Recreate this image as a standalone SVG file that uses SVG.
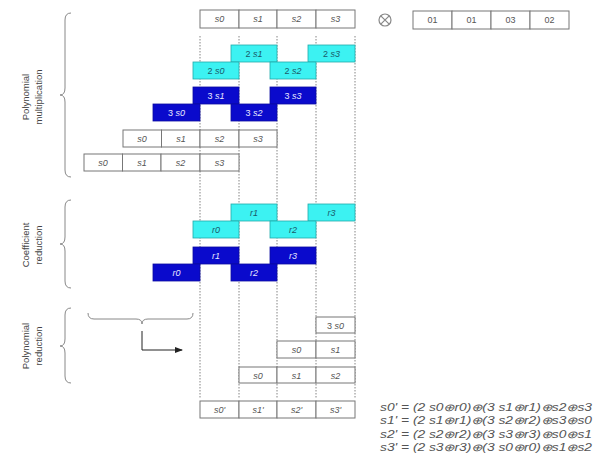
<svg xmlns="http://www.w3.org/2000/svg" width="603" height="475" viewBox="0 0 603 475">
<defs>
<style>
.g rect{fill:#fff;stroke:#777;stroke-width:1}
.c rect{fill:#3cf2f2;stroke:#22aaaa;stroke-width:0.8}
.b rect{fill:#0a0acc;stroke:#0a0aa0;stroke-width:0.8}
text{font-family:"Liberation Sans",Arial,sans-serif;font-size:9px;text-anchor:middle}
.g text{fill:#555;font-style:italic}
.c text{fill:#1a5a6a}
.b text{fill:#e8e8ff}
.it{font-style:italic}
.lbl{fill:#444;font-size:9.5px}
.eq{fill:#555;font-style:italic;text-anchor:start;font-size:10px}
.dash{stroke:#666;stroke-width:0.8;stroke-dasharray:1.5,1.5;fill:none}
.brace{fill:none;stroke:#888;stroke-width:1}
</style>
<marker id="arr" markerWidth="8" markerHeight="8" refX="7" refY="4" orient="auto" markerUnits="userSpaceOnUse">
<path d="M0,1 L8,4 L0,7 Z" fill="#222"/>
</marker>
</defs>

<g id="gridlines">
<line class="dash" x1="200" y1="36" x2="200" y2="398"/>
<line class="dash" x1="239" y1="36" x2="239" y2="398"/>
<line class="dash" x1="277" y1="36" x2="277" y2="398"/>
<line class="dash" x1="316" y1="36" x2="316" y2="398"/>
<line class="dash" x1="355" y1="36" x2="355" y2="398"/>
</g>

<g id="state-row" class="g">
<rect x="200" y="10" width="39" height="18"/><text x="219.5" y="22">s0</text>
<rect x="239" y="10" width="38" height="18"/><text x="258" y="22">s1</text>
<rect x="277" y="10" width="39" height="18"/><text x="296.5" y="22">s2</text>
<rect x="316" y="10" width="39" height="18"/><text x="335.5" y="22">s3</text>
</g>
<g id="otimes">
<circle cx="385" cy="20" r="6" fill="none" stroke="#888" stroke-width="1.2"/>
<path d="M380.8,15.8 L389.2,24.2 M389.2,15.8 L380.8,24.2" stroke="#888" stroke-width="1.2"/>
</g>
<g id="poly-row" class="g">
<rect x="413" y="11" width="39" height="18"/><text x="432.5" y="23" style="font-style:normal">01</text>
<rect x="452" y="11" width="39" height="18"/><text x="471.5" y="23" style="font-style:normal">01</text>
<rect x="491" y="11" width="39" height="18"/><text x="510.5" y="23" style="font-style:normal">03</text>
<rect x="530" y="11" width="39" height="18"/><text x="549.5" y="23" style="font-style:normal">02</text>
</g>

<g id="mul2" class="c">
<rect x="231" y="45" width="46" height="17"/><text x="254" y="57">2 <tspan class="it">s1</tspan></text>
<rect x="308" y="45" width="47" height="17"/><text x="331.5" y="57">2 <tspan class="it">s3</tspan></text>
<rect x="193" y="62" width="46" height="17"/><text x="216" y="74">2 <tspan class="it">s0</tspan></text>
<rect x="270" y="62" width="46" height="17"/><text x="293" y="74">2 <tspan class="it">s2</tspan></text>
</g>
<g id="mul3" class="b">
<rect x="193" y="87" width="46" height="17"/><text x="216" y="99">3 <tspan class="it">s1</tspan></text>
<rect x="270" y="87" width="46" height="17"/><text x="293" y="99">3 <tspan class="it">s3</tspan></text>
<rect x="153" y="104" width="47" height="17"/><text x="176.5" y="116">3 <tspan class="it">s0</tspan></text>
<rect x="231" y="104" width="46" height="17"/><text x="254" y="116">3 <tspan class="it">s2</tspan></text>
</g>
<g id="shift1" class="g">
<rect x="123" y="130" width="38.5" height="17"/><text x="142" y="142">s0</text>
<rect x="161.5" y="130" width="38.5" height="17"/><text x="181" y="142">s1</text>
<rect x="200" y="130" width="39" height="17"/><text x="219.5" y="142">s2</text>
<rect x="239" y="130" width="38" height="17"/><text x="258" y="142">s3</text>
</g>
<g id="shift2" class="g">
<rect x="84" y="154" width="38.5" height="17"/><text x="103" y="166">s0</text>
<rect x="122.5" y="154" width="38.5" height="17"/><text x="142" y="166">s1</text>
<rect x="161" y="154" width="39" height="17"/><text x="180.5" y="166">s2</text>
<rect x="200" y="154" width="39" height="17"/><text x="219.5" y="166">s3</text>
</g>

<g id="red2" class="c">
<rect x="231" y="204" width="46" height="17"/><text x="254" y="216" class="it">r1</text>
<rect x="308" y="204" width="47" height="17"/><text x="331.5" y="216" class="it">r3</text>
<rect x="193" y="221" width="46" height="17"/><text x="216" y="233" class="it">r0</text>
<rect x="270" y="221" width="46" height="17"/><text x="293" y="233" class="it">r2</text>
</g>
<g id="red3" class="b">
<rect x="193" y="247" width="46" height="17"/><text x="216" y="259" class="it">r1</text>
<rect x="270" y="247" width="46" height="17"/><text x="293" y="259" class="it">r3</text>
<rect x="153" y="264" width="47" height="17"/><text x="176.5" y="276" class="it">r0</text>
<rect x="231" y="264" width="46" height="17"/><text x="254" y="276" class="it">r2</text>
</g>

<g id="polyred" class="g">
<rect x="316" y="317" width="39" height="16"/><text x="335.5" y="328.5"><tspan style="font-style:normal">3 </tspan>s0</text>
<rect x="277" y="341" width="39" height="17"/><text x="296.5" y="353">s0</text>
<rect x="316" y="341" width="39" height="17"/><text x="335.5" y="353">s1</text>
<rect x="239" y="367" width="38" height="16"/><text x="258" y="378.5">s0</text>
<rect x="277" y="367" width="39" height="16"/><text x="296.5" y="378.5">s1</text>
<rect x="316" y="367" width="39" height="16"/><text x="335.5" y="378.5">s2</text>
</g>

<g id="result" class="g">
<rect x="200" y="401" width="39" height="17"/><text x="219.5" y="413">s0'</text>
<rect x="239" y="401" width="38" height="17"/><text x="258" y="413">s1'</text>
<rect x="277" y="401" width="39" height="17"/><text x="296.5" y="413">s2'</text>
<rect x="316" y="401" width="39" height="17"/><text x="335.5" y="413">s3'</text>
</g>

<g id="labels">
<g id="lbl-mul">
<path class="brace" d="M71,13 Q65,13 65,20 L65,88 Q65,95 60,95 Q65,95 65,102 L65,170 Q65,177 71,177"/>
<text class="lbl" transform="translate(29,97) rotate(-90)">Polynomial</text>
<text class="lbl" transform="translate(42,97) rotate(-90)">multiplication</text>
</g>
<g id="lbl-coef">
<path class="brace" d="M71,200 Q65,200 65,207 L65,237 Q65,244 60,244 Q65,244 65,251 L65,281 Q65,288 71,288"/>
<text class="lbl" transform="translate(29,245) rotate(-90)">Coefficient</text>
<text class="lbl" transform="translate(42,245) rotate(-90)">reduction</text>
</g>
<g id="lbl-polyred">
<path class="brace" d="M71,308 Q65,308 65,315 L65,339 Q65,346 60,346 Q65,346 65,353 L65,376 Q65,383 71,383"/>
<text class="lbl" transform="translate(29,346) rotate(-90)">Polynomial</text>
<text class="lbl" transform="translate(42,346) rotate(-90)">reduction</text>
</g>
</g>

<g id="connectors">
<path class="brace" d="M88,313 Q88,319 94,319 L136,319 Q142,319 142,324 Q142,319 148,319 L187,319 Q193,319 193,313"/>
<path d="M142,331 L142,350 L182,350" fill="none" stroke="#222" stroke-width="1" marker-end="url(#arr)"/>
</g>

<g id="equations">
<text class="eq" x="380" y="411" textLength="212" lengthAdjust="spacingAndGlyphs">s0' = (2 s0⊕r0)⊕(3 s1⊕r1)⊕s2⊕s3</text>
<text class="eq" x="380" y="424" textLength="212" lengthAdjust="spacingAndGlyphs">s1' = (2 s1⊕r1)⊕(3 s2⊕r2)⊕s3⊕s0</text>
<text class="eq" x="380" y="438" textLength="212" lengthAdjust="spacingAndGlyphs">s2' = (2 s2⊕r2)⊕(3 s3⊕r3)⊕s0⊕s1</text>
<text class="eq" x="380" y="451" textLength="212" lengthAdjust="spacingAndGlyphs">s3' = (2 s3⊕r3)⊕(3 s0⊕r0)⊕s1⊕s2</text>
</g>
</svg>
